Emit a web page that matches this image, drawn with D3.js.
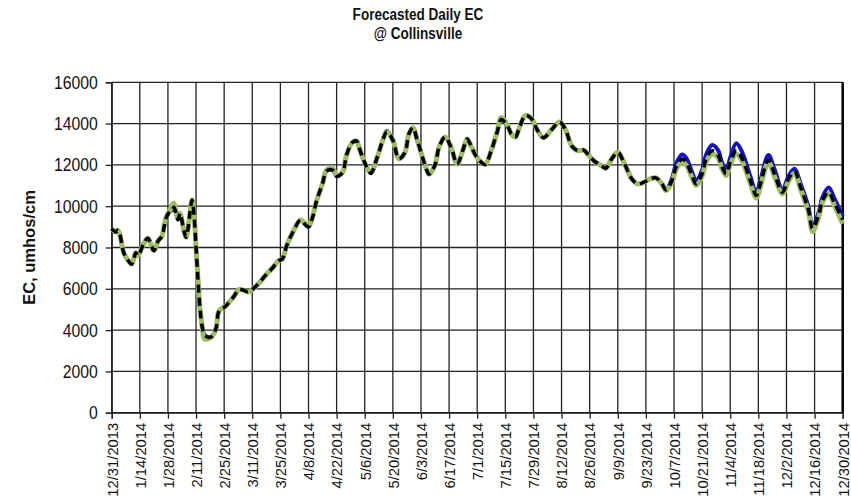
<!DOCTYPE html>
<html>
<head>
<meta charset="utf-8">
<script src="https://cdn.jsdelivr.net/npm/d3@7"></script>
<style>
  html, body { margin: 0; padding: 0; background: #fff; }
  svg { display: block; }
</style>
</head>
<body>
<svg id="chart" width="851" height="500"></svg>
<script>
// Days after 12/31/2013 at which each reading is taken
const dayIndex = [
  0, 2, 3, 4, 6, 8, 10, 12, 13, 16,
  18, 21, 23, 25, 27, 29, 30, 31, 33, 34,
  36, 37, 38, 39, 40, 41, 42, 43, 44, 45,
  46, 47, 48, 50, 52, 53, 54, 56, 58, 61,
  63, 65, 68, 71, 74, 77, 80, 83, 85, 87,
  90, 94, 96, 98, 100, 102, 105, 107, 110, 112,
  115, 117, 120, 122, 123, 126, 129, 132, 135, 137,
  140, 143, 146, 148, 150, 152, 156, 158, 161, 163,
  166, 169, 172, 175, 177, 179, 181, 184, 186, 189,
  192, 194, 197, 199, 201, 203, 206, 209, 212, 215,
  219, 223, 226, 229, 232, 235, 237, 240, 244, 246,
  249, 252, 255, 259, 262, 265, 268, 271, 274, 276,
  279, 281, 284, 286, 289, 291, 294, 296, 299, 302,
  304, 306, 308, 311, 314, 318, 321, 323, 327, 330,
  334, 337, 340, 343, 347, 349, 352, 354, 357, 360,
  364
];

// Blue series (umhos/cm)
const blueValues = [
  8900, 8750, 8830, 8650, 7750, 7400, 7200, 7750, 7600, 8200,
  8450, 7850, 8300, 8550, 9400, 9750, 9800, 9950, 9350, 9650,
  8800, 8500, 8900, 9700, 10300, 9600, 8000, 6400, 5000, 4200,
  3800, 3700, 3650, 3700, 4100, 4800, 5000, 5100, 5300, 5650,
  5950, 5950, 5850, 6050, 6350, 6700, 7000, 7350, 7450, 8050,
  8700, 9330, 9150, 9000, 9450, 10250, 11100, 11700, 11750, 11450,
  11650, 12500, 13100, 13150, 12900, 12100, 11600, 12300, 13200, 13650,
  13200, 12300, 12600, 13500, 13800, 13250, 12000, 11550, 12000, 12850,
  13350, 12850, 12050, 12750, 13250, 12900, 12500, 12130, 12020, 12690,
  13600, 14200, 13900, 13500, 13350, 13800, 14400, 14240, 13680, 13320,
  13700, 14080, 13700, 12930, 12690, 12720, 12530, 12210, 11950, 11840,
  12290, 12610, 12130, 11320, 11080, 11160, 11320, 11370, 11080, 10790,
  11350, 12050, 12500, 12350, 11650, 11240, 11750, 12500, 12960, 12700,
  12100, 11800, 12350, 13050, 12600, 11450, 10650, 11250, 12480, 11800,
  10800, 11450, 11810, 11100, 9950, 9000, 9700, 10450, 10900, 10350,
  9500
];

// Black dashed series (umhos/cm)
const blackValues = [
  8900, 8750, 8830, 8650, 7750, 7400, 7200, 7750, 7600, 8200,
  8450, 7850, 8300, 8550, 9400, 9750, 9800, 9950, 9350, 9650,
  8800, 8500, 8900, 9700, 10300, 9600, 8000, 6400, 5000, 4200,
  3800, 3700, 3650, 3700, 4100, 4800, 5000, 5100, 5300, 5650,
  5950, 5950, 5850, 6050, 6350, 6700, 7000, 7350, 7450, 8050,
  8700, 9330, 9150, 9000, 9450, 10250, 11100, 11700, 11750, 11450,
  11650, 12500, 13100, 13150, 12900, 12100, 11600, 12300, 13200, 13600,
  13200, 12300, 12600, 13500, 13800, 13250, 12000, 11550, 12000, 12850,
  13350, 12850, 12050, 12750, 13250, 12900, 12500, 12130, 12020, 12690,
  13600, 14200, 13900, 13500, 13350, 13800, 14400, 14240, 13680, 13320,
  13700, 14080, 13700, 12930, 12690, 12720, 12530, 12210, 11950, 11840,
  12290, 12610, 12130, 11320, 11080, 11160, 11320, 11370, 11080, 10790,
  11240, 11890, 12290, 12130, 11480, 11080, 11570, 12290, 12690, 12450,
  11890, 11570, 12130, 12690, 12290, 11240, 10520, 11080, 12240, 11570,
  10680, 11320, 11690, 10930, 9800, 8920, 9560, 10290, 10680, 10130,
  9350
];

// Green series (umhos/cm)
const greenValues = [
  8900, 8750, 8830, 8650, 7750, 7400, 7200, 7750, 7600, 8200,
  8450, 7850, 8300, 8550, 9450, 9800, 10050, 10150, 9400, 9650,
  8800, 8500, 8900, 9700, 10300, 9600, 8000, 6400, 5000, 4200,
  3600, 3550, 3580, 3700, 4100, 4800, 5000, 5100, 5300, 5650,
  5950, 5950, 5850, 6050, 6350, 6700, 7000, 7350, 7450, 8050,
  8700, 9330, 9200, 9100, 9500, 10250, 11100, 11750, 11850, 11500,
  11650, 12500, 13100, 13150, 12900, 12100, 11650, 12300, 13200, 13600,
  13200, 12300, 12600, 13500, 13800, 13250, 12000, 11550, 12000, 12850,
  13350, 12850, 12050, 12750, 13250, 12900, 12500, 12130, 12020, 12690,
  13650, 14300, 13950, 13500, 13350, 13800, 14400, 14240, 13680, 13320,
  13700, 14080, 13700, 12930, 12690, 12720, 12530, 12210, 11950, 11840,
  12290, 12610, 12130, 11320, 11080, 11160, 11320, 11370, 11080, 10760,
  11150, 11780, 12130, 12000, 11380, 11000, 11450, 12150, 12530, 12330,
  11780, 11480, 12000, 12530, 12150, 11100, 10400, 10950, 12130, 11450,
  10600, 11200, 11600, 10830, 9700, 8770, 9450, 10200, 10600, 10000,
  9150
];

// Axis labelling
const startDate = new Date(2013, 11, 31);
const endDate = new Date(2014, 11, 30);
const tickDates = ["12/31/2013", "1/14/2014", "1/28/2014", "2/11/2014", "2/25/2014",
  "3/11/2014", "3/25/2014", "4/8/2014", "4/22/2014", "5/6/2014", "5/20/2014",
  "6/3/2014", "6/17/2014", "7/1/2014", "7/15/2014", "7/29/2014", "8/12/2014",
  "8/26/2014", "9/9/2014", "9/23/2014", "10/7/2014", "10/21/2014", "11/4/2014",
  "11/18/2014", "12/2/2014", "12/16/2014", "12/30/2014"];
const yTicks = [0, 2000, 4000, 6000, 8000, 10000, 12000, 14000, 16000];
const titleLines = ["Forecasted Daily EC", "@ Collinsville"];
const yTitle = "EC, umhos/cm";

const svg = d3.select("#chart");
const W = 851, H = 500;
const margin = { left: 111.7, right: W - 842.7, top: 82.3, bottom: H - 412.7 };

const parse = d3.timeParse("%m/%d/%Y");
const x = d3.scaleTime().domain([startDate, endDate]).range([margin.left, W - margin.right]);
const y = d3.scaleLinear().domain([0, 16000]).range([H - margin.bottom, margin.top]);

const dates = dayIndex.map(d => d3.timeDay.offset(startDate, d));
const tickVals = tickDates.map(parse);

const font = "'Liberation Sans', Arial, sans-serif";

// Grid
const grid = svg.append("g");
grid.selectAll("line.h").data(yTicks).join("line")
  .attr("x1", x.range()[0]).attr("x2", x.range()[1])
  .attr("y1", d => y(d)).attr("y2", d => y(d))
  .attr("stroke", "#222").attr("stroke-width", 1.3);
grid.selectAll("line.v").data(tickVals).join("line")
  .attr("x1", d => x(d)).attr("x2", d => x(d))
  .attr("y1", y.range()[1]).attr("y2", y.range()[0])
  .attr("stroke", "#222").attr("stroke-width", 1.3);
// right frame edge
svg.append("line")
  .attr("x1", x(endDate)).attr("x2", x(endDate))
  .attr("y1", y(16000)).attr("y2", y(0))
  .attr("stroke", "#000").attr("stroke-width", 2.5);

// Axes
const xAxis = d3.axisBottom(x).tickValues(tickVals).tickSize(6)
  .tickFormat((d, i) => tickDates[i]);
const gx = svg.append("g").attr("transform", `translate(0,${y(0)})`).call(xAxis);
gx.select(".domain").attr("stroke", "#222").attr("stroke-width", 1.3);
gx.selectAll(".tick line").attr("stroke", "#222").attr("stroke-width", 1.3);
gx.selectAll(".tick text")
  .attr("transform", "rotate(-90)")
  .attr("text-anchor", "end")
  .attr("x", -10).attr("y", 0).attr("dy", "0.36em")
  .style("font-family", font).style("font-size", "14.8px").attr("fill", "#111");

const yAxis = d3.axisLeft(y).tickValues(yTicks).tickSize(6).tickFormat(d3.format("d"));
const gy = svg.append("g").attr("transform", `translate(${x.range()[0]},0)`).call(yAxis);
gy.select(".domain").attr("stroke", "#222").attr("stroke-width", 1.3);
gy.selectAll(".tick line").attr("stroke", "#222").attr("stroke-width", 1.3);
gy.selectAll(".tick text")
  .attr("x", null)
  .attr("transform", "translate(-14,0) scale(0.9,1)")
  .attr("dy", "0.34em")
  .style("font-family", font).style("font-size", "17.5px").attr("fill", "#111");

// Series lines
const line = vals => d3.line()
  .x((d, i) => x(dates[i]))
  .y(d => y(d))
  .curve(d3.curveCatmullRom.alpha(0.5))(vals);

svg.append("path").attr("d", line(blueValues))
  .attr("fill", "none").attr("stroke", "#1010c8").attr("stroke-width", 4)
  .attr("stroke-linejoin", "round");
svg.append("path").attr("d", line(greenValues))
  .attr("fill", "none").attr("stroke", "#9dbd62").attr("stroke-width", 5)
  .attr("stroke-linejoin", "round");
svg.append("path").attr("d", line(blackValues))
  .attr("fill", "none").attr("stroke", "#000").attr("stroke-width", 3.5)
  .attr("stroke-dasharray", "8,5").attr("stroke-linejoin", "round");

// Titles
svg.append("g").selectAll("text").data(titleLines).join("text")
  .attr("transform", (d, i) => `translate(418,${20 + i * 19}) scale(0.82,1)`)
  .attr("text-anchor", "middle")
  .style("font-family", font).style("font-weight", "bold").style("font-size", "16.5px")
  .attr("fill", "#111")
  .text(d => d);

svg.append("text")
  .attr("transform", `translate(35,${(y(0) + y(16000)) / 2}) rotate(-90)`)
  .attr("text-anchor", "middle")
  .style("font-family", font).style("font-weight", "bold").style("font-size", "16.5px")
  .attr("fill", "#111")
  .text(yTitle);
</script>
</body>
</html>
